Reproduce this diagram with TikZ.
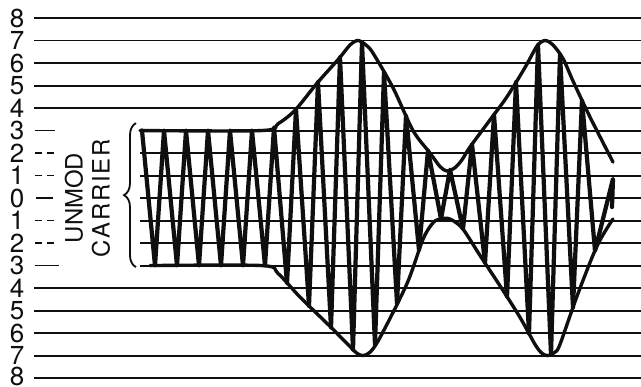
\documentclass[tikz,border=0pt]{standalone}
\usepackage{fontspec}
\setsansfont{TeX Gyre Heros}
\usetikzlibrary{decorations.pathreplacing}
\definecolor{inkBlack}{RGB}{15,15,15}
\tikzset{
  gridL/.style={draw=inkBlack, line width=1.4pt},
  tickL/.style={draw=inkBlack, line width=1.3pt},
  tickD/.style={tickL, dash pattern=on 5pt off 3.5pt},
  lvl/.style={font=\sffamily\fontsize{18.5}{18.5}\selectfont, text=inkBlack, inner sep=0pt},
  vlabel/.style={font=\sffamily\fontsize{17}{17}\selectfont, text=inkBlack,
    inner sep=0pt, rotate=90},
  env/.style={draw=inkBlack, line width=2.4pt, line cap=round, line join=round},
  wave/.style={draw=inkBlack, line width=3pt, line cap=round, line join=round},
  brc/.style={draw=inkBlack, line width=1.3pt, decorate,
    decoration={brace, amplitude=0.3cm}},
}

\begin{document}
\begin{tikzpicture}[x=0.025cm, y=0.5625cm]

\fill[white] (0,-8.356) rectangle (641,8.8);
\useasboundingbox (0,-8.356) rectangle (641,8.8);

%% ── LEVEL SCALE ─────────────────────────────────────────
\node[lvl] (L8)  at (17, 8) {8};
\node[lvl] (L7)  at (17, 7) {7};
\node[lvl] (L6)  at (17, 6) {6};
\node[lvl] (L5)  at (17, 5) {5};
\node[lvl] (L4)  at (17, 4) {4};
\node[lvl] (L3)  at (17, 3) {3};
\node[lvl] (L2)  at (17, 2) {2};
\node[lvl] (L1)  at (17, 1) {1};
\node[lvl] (L0)  at (17, 0) {0};
\node[lvl] (Lm1) at (17,-1) {1};
\node[lvl] (Lm2) at (17,-2) {2};
\node[lvl] (Lm3) at (17,-3) {3};
\node[lvl] (Lm4) at (17,-4) {4};
\node[lvl] (Lm5) at (17,-5) {5};
\node[lvl] (Lm6) at (17,-6) {6};
\node[lvl] (Lm7) at (17,-7) {7};
\node[lvl] (Lm8) at (17,-7.95) {8};

%% ── GRID LINES ──────────────────────────────────────────
\draw[gridL] (34, 8) -- (641, 8);
\draw[gridL] (34, 7) -- (641, 7);
\draw[gridL] (34, 6) -- (641, 6);
\draw[gridL] (34, 5) -- (641, 5);
\draw[gridL] (34, 4) -- (641, 4);
\draw[gridL] (140, 3) -- (641, 3);
\draw[gridL] (140, 2) -- (641, 2);
\draw[gridL] (140, 1) -- (641, 1);
\draw[gridL] (140, 0) -- (641, 0);
\draw[gridL] (140,-1) -- (641,-1);
\draw[gridL] (140,-2) -- (641,-2);
\draw[gridL] (140,-3) -- (641,-3);
\draw[gridL] (34,-4) -- (641,-4);
\draw[gridL] (34,-5) -- (641,-5);
\draw[gridL] (34,-6) -- (641,-6);
\draw[gridL] (34,-7) -- (641,-7);
\draw[gridL] (34,-8) -- (641,-8);

% short ticks beside the carrier
\draw[tickL] (35, 3) -- (55, 3);
\draw[tickD] (35, 2) -- (54, 2);
\draw[tickD] (35, 1) -- (54, 1);
\draw[tickL, line width=2pt] (36, 0) -- (53, 0);
\draw[tickD] (35,-1) -- (54,-1);
\draw[tickD] (35,-2) -- (54,-2);
\draw[tickL] (35,-3) -- (59,-3);

%% ── CARRIER LABEL ───────────────────────────────────────
\node[vlabel] (unmod) at (74,0) {UNMOD};
\node[vlabel] (carr) at (101,0) {\addfontfeature{LetterSpace=8}CARRIER};
\draw[brc] (136,-3.07) -- (136,3.33);

%% ── ENVELOPE ────────────────────────────────────────────
\draw[env] plot[smooth, tension=0.5] coordinates {
  (140,3) (262,3) (278,3.3) (295,3.9) (317,5.1) (339,6.2) (350,6.8)
  (358,7) (366,6.8) (373,6.44) (393,4.9) (413,3.0) (430,2.0) (440,1.4)
  (447,1.2) (455,1.35) (462,1.7) (470,2.27) (490,3.47) (507,4.5)
  (525,5.8) (537,6.75) (545,7) (553,6.8) (563,6.2) (573,5.2) (590,3.6)
  (613,1.6)};
\draw[env] plot[smooth, tension=0.5] coordinates {
  (150,-3) (262,-3) (278,-3.35) (300,-4.4) (330,-5.7) (350,-6.6)
  (357,-6.9) (363,-7) (370,-6.85) (380,-6.2) (407,-3.8) (423,-1.83)
  (433,-1.1) (440,-0.93) (447,-0.9) (453,-1.0) (463,-1.38) (480,-2.55)
  (500,-3.9) (520,-5.3) (535,-6.5) (542,-6.9) (548,-7) (555,-6.85)
  (560,-6.5) (577,-4.36) (597,-2.13) (613,-0.93)};

%% ── CARRIER WAVE ────────────────────────────────────────
\draw[wave] (142,3) -- (155,-3) -- (164,3) -- (177,-3) -- (186,3)
  -- (199,-3) -- (208,3) -- (221,-3) -- (230,3) -- (243,-3) -- (252,3)
  -- (265,-3) -- (274,3.14) -- (287,-3.79) -- (296,3.95) -- (309,-4.79)
  -- (318,5.15) -- (331,-5.75) -- (340,6.25) -- (353,-6.73) -- (362,6.91)
  -- (375,-6.52) -- (384,5.59) -- (397,-4.69) -- (406,3.67) -- (419,-2.32)
  -- (428,2.12) -- (441,-0.93) -- (450,1.26) -- (463,-1.38) -- (472,2.39)
  -- (485,-2.89) -- (494,3.71) -- (507,-4.39) -- (516,5.15) -- (529,-6.02)
  -- (538,6.8) -- (551,-6.94) -- (560,6.38) -- (573,-4.86) -- (582,4.35)
  -- (595,-2.35) -- (613,0.85) -- (612,-0.4);

\end{tikzpicture}
\end{document}
